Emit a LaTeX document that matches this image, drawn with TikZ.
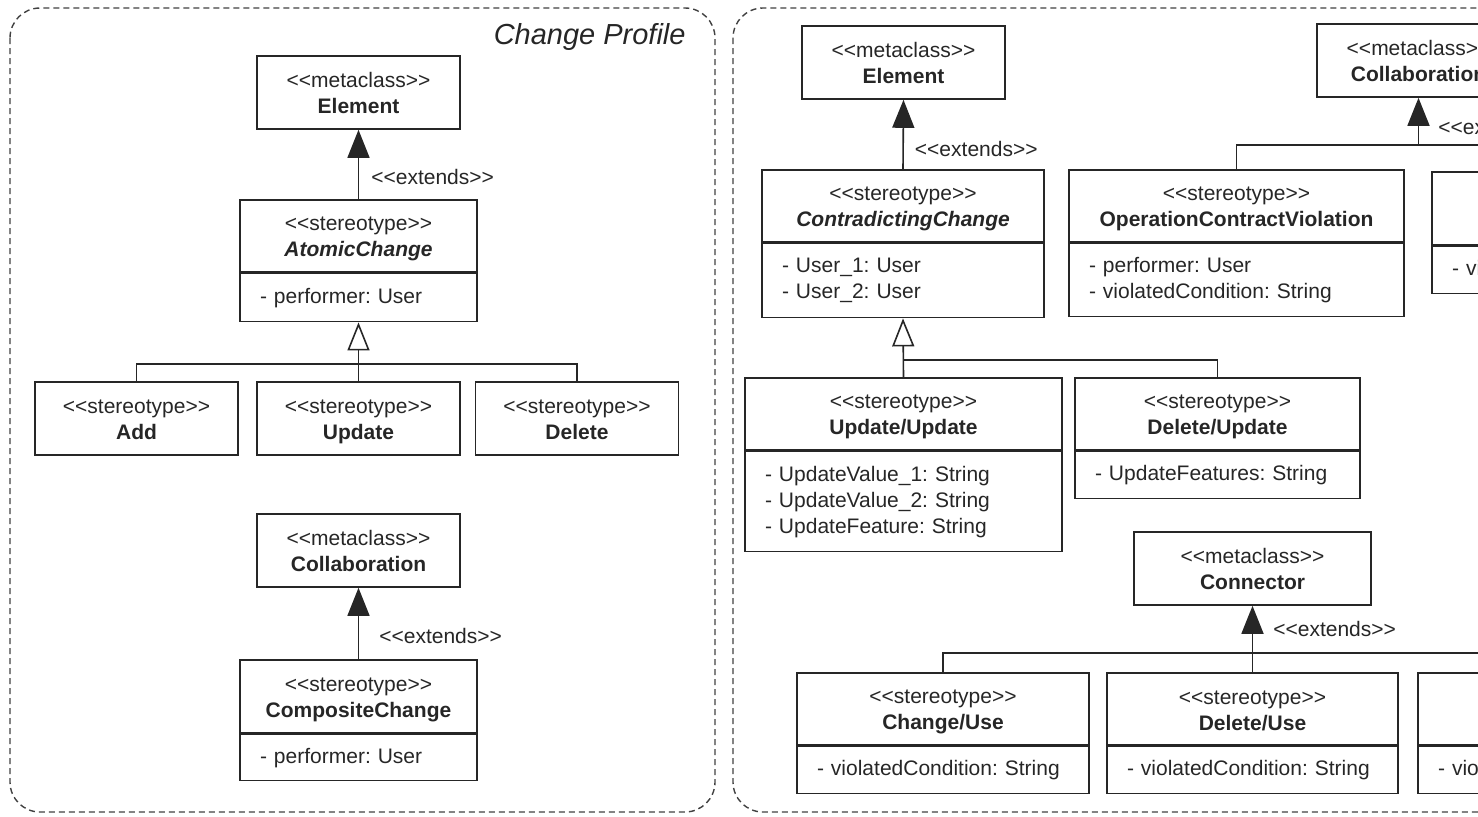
\documentclass[tikz,border=0pt]{standalone}
\usepackage{fontspec}
\setmainfont{Liberation Sans}
\usetikzlibrary{arrows.meta,positioning}
\newcommand\umlstrut{\rule[-1.8pt]{0pt}{11.8pt}}
\newcommand\stereotag[1]{<\kern0pt<#1>\kern0pt>\umlstrut}
\newcommand\cname[1]{\textbf{#1}\umlstrut}
\newcommand\umlsize{\fontsize{10.5}{13}\selectfont\frenchspacing}
\tikzset{
  umlline/.style={draw=black!85, line width=0.8pt},
  metabox/.style={umlline, rectangle, text=black!85, minimum width=#1, minimum height=36.5pt, inner sep=2pt, align=center, font=\umlsize},
  headbox/.style={metabox=#1, minimum height=36pt},
  attrbox/.style={umlline, rectangle, text=black!85, inner xsep=10pt, inner ysep=2pt, text width=#1, align=left, font=\umlsize},
  extarrow/.style={umlline, -{Triangle[width=11pt,length=14pt]}},
  genarrow/.style={umlline, -{Triangle[open,width=11pt,length=14pt,fill=white]}},
  extlabel/.style={anchor=west, inner sep=0pt, text=black!85, font=\umlsize},
  panel/.style={draw=black!75, line width=0.7pt, dash pattern=on 3pt off 2pt, rounded corners=15pt},
  titletext/.style={inner sep=0pt, text=black!85, font=\fontsize{14.5}{17}\selectfont\itshape}
}
\begin{document}
\begin{tikzpicture}[x=0.5pt, y=-0.5pt]
  \useasboundingbox (0,0) rectangle (1478,816);
  \clip (0,0) rectangle (1478,816);

  % panels
  \draw[panel] (10,8) rectangle (715,812);
  \draw[panel] (733,8) rectangle (1640,812);
  \node[titletext, anchor=east] (title) at (686,37) {Change Profile};

  % left panel: atomic changes
  \node[metabox=101.5pt] (elemL) at (358.5,92.5) {\stereotag{metaclass}\\\cname{Element}};
  \node[headbox=118.5pt] (atomic) at (358.5,236) {\stereotag{stereotype}\\\cname{\textit{AtomicChange}}};
  \node[attrbox=98.5pt, minimum height=24pt, below=0pt of atomic] (atomic-a) {- performer: User};
  \node[metabox=101.5pt] (add) at (136.5,418.5) {\stereotag{stereotype}\\\cname{Add}};
  \node[metabox=101.5pt] (update) at (358.5,418.5) {\stereotag{stereotype}\\\cname{Update}};
  \node[metabox=101.5pt] (delete) at (577,418.5) {\stereotag{stereotype}\\\cname{Delete}};
  \coordinate (genL) at (358.5,364);

  \draw[extarrow] (atomic.north) -- node[extlabel, pos=.33, xshift=6pt] {\stereotag{extends}} (elemL.south);
  \draw[genarrow] (update.north) -- (atomic-a.south);
  \draw[umlline] (add.north) |- (genL) -| (delete.north);

  % left panel: composite change
  \node[metabox=101.5pt] (collabL) at (358.5,550.5) {\stereotag{metaclass}\\\cname{Collaboration}};
  \node[headbox=118.5pt, minimum height=36.5pt] (composite) at (358.5,696.5) {\stereotag{stereotype}\\\cname{CompositeChange}};
  \node[attrbox=98.5pt, minimum height=23pt, below=0pt of composite] (composite-a) {- performer: User};
  \draw[extarrow] (composite.north) -- node[extlabel, pos=.33, xshift=10pt] {\stereotag{extends}} (collabL.south);

  % right panel: contradicting changes
  \node[metabox=101.5pt] (elemR) at (903.5,62.5) {\stereotag{metaclass}\\\cname{Element}};
  \node[headbox=141pt] (contra) at (903,206) {\stereotag{stereotype}\\\cname{\textit{ContradictingChange}}};
  \node[attrbox=121pt, minimum height=37pt, below=0pt of contra] (contra-a) {- User\_1: User\\- User\_2: User};
  \node[headbox=158.5pt] (uu) at (903.5,414) {\stereotag{stereotype}\\\cname{Update/Update}};
  \node[attrbox=138.5pt, minimum height=50pt, below=0pt of uu] (uu-a) {- UpdateValue\_1: String\\- UpdateValue\_2: String\\- UpdateFeature: String};
  \node[headbox=142.5pt] (du) at (1217.5,414) {\stereotag{stereotype}\\\cname{Delete/Update}};
  \node[attrbox=122.5pt, minimum height=23.5pt, below=0pt of du] (du-a) {- UpdateFeatures: String};
  \coordinate (genR) at (903.5,360);

  \draw[extarrow] (contra.north) -- node[extlabel, pos=.3, xshift=5.5pt] {\stereotag{extends}} (elemR.south);
  \draw[genarrow] (uu.north) -- (contra-a.south);
  \draw[umlline] (genR) -| (du.north);

  % right panel: collaboration violations
  \node[metabox=101.5pt] (collabR) at (1418.5,60.5) {\stereotag{metaclass}\\\cname{Collaboration}};
  \node[headbox=167.5pt] (ocv) at (1236.5,206) {\stereotag{stereotype}\\\cname{OperationContractViolation}};
  \node[attrbox=147.5pt, minimum height=36.5pt, below=0pt of ocv] (ocv-a) {- performer: User\\- violatedCondition: String};
  \node[headbox=150pt, minimum height=36.5pt] (inv) at (1582,208.5) {};
  \node[attrbox=130pt, minimum height=23.5pt, below=0pt of inv] (inv-a) {- violatedCondition: String};
  \coordinate (extB) at (1418.5,145);

  \draw[extarrow] (extB) -- node[extlabel, pos=.4, xshift=9.5pt] {\stereotag{extends}} (collabR.south);
  \draw[umlline] (ocv.north) |- (extB) -| (inv.north);

  % right panel: connector conflicts
  \node[metabox=118.5pt] (conn) at (1252.5,568.5) {\stereotag{metaclass}\\\cname{Connector}};
  \node[headbox=146pt] (cu) at (943,709) {\stereotag{stereotype}\\\cname{Change/Use}};
  \node[attrbox=126pt, minimum height=23.5pt, below=0pt of cu] (cu-a) {- violatedCondition: String};
  \node[headbox=145.5pt] (dlu) at (1252.5,709) {\stereotag{stereotype}\\\cname{Delete/Use}};
  \node[attrbox=125.5pt, minimum height=23.5pt, below=0pt of dlu] (dlu-a) {- violatedCondition: String};
  \node[headbox=145.5pt] (vio3) at (1563.5,709) {};
  \node[attrbox=125.5pt, minimum height=23.5pt, below=0pt of vio3] (vio3-a) {- violatedCondition: String};
  \coordinate (extC) at (1252.5,653);

  \draw[extarrow] (dlu.north) -- node[extlabel, pos=.66, xshift=10pt] {\stereotag{extends}} (conn.south);
  \draw[umlline] (cu.north) |- (extC) -| (vio3.north);
\end{tikzpicture}
\end{document}
